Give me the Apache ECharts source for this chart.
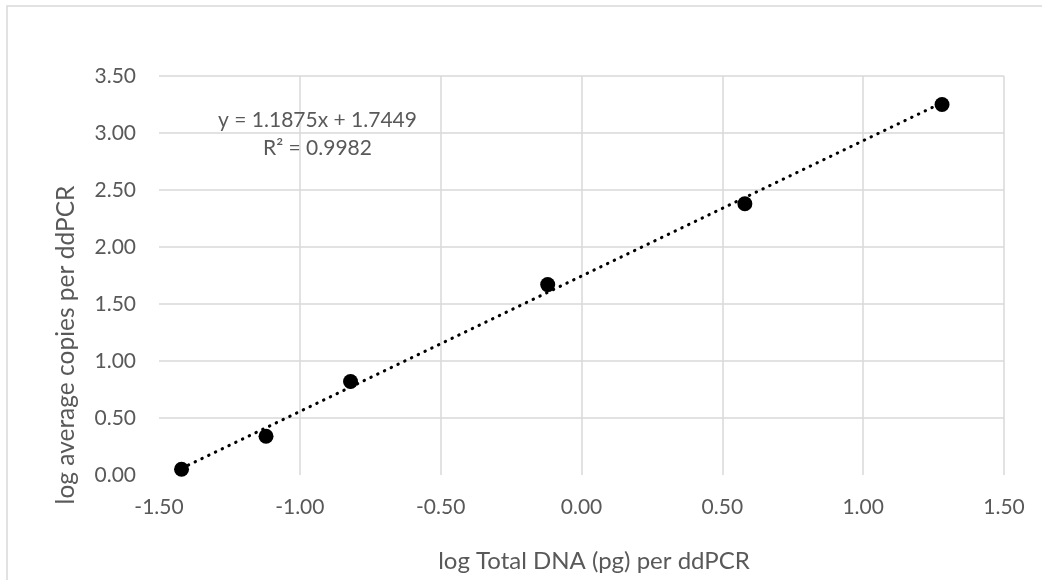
<!DOCTYPE html>
<html>
<head>
<meta charset="utf-8">
<script src="https://cdn.jsdelivr.net/npm/echarts@6/dist/echarts.min.js"></script>
<style>
html,body{margin:0;padding:0;background:#fff;}
#chart{width:1042px;height:580px;}
</style>
</head>
<body>
<div id="chart"></div>
<script>
// Data
const xValues = [-1.42, -1.12, -0.82, -0.12, 0.58, 1.28];
const yValues = [0.05, 0.34, 0.82, 1.67, 2.38, 3.25];
const trendSlope = 1.1875;
const trendIntercept = 1.7449;
const rSquared = 0.9982;
const xTicks = [-1.5, -1.0, -0.5, 0.0, 0.5, 1.0, 1.5];
const yTicks = [0.0, 0.5, 1.0, 1.5, 2.0, 2.5, 3.0, 3.5];
const xTitle = 'log Total DNA (pg) per ddPCR';
const yTitle = 'log average copies per ddPCR';

const points = xValues.map((x, i) => [x, yValues[i]]);
const xMin = Math.min(...xValues), xMax = Math.max(...xValues);
const trendPoints = [xMin, xMax].map(x => [x, trendSlope * x + trendIntercept]);
const eqText = 'y = ' + trendSlope.toFixed(4) + 'x + ' + trendIntercept.toFixed(4) + '\nR² = ' + rSquared.toFixed(4);

const FONT = 'Lato';
const TXT = '#595959';
const GRID = '#d9d9d9';

const chart = echarts.init(document.getElementById('chart'), null, {renderer: 'canvas'});
chart.setOption({
  animation: false,
  backgroundColor: '#fff',
  grid: {left: 159, right: 38, top: 76, bottom: 105, containLabel: false},
  xAxis: {
    type: 'value',
    min: xTicks[0], max: xTicks[xTicks.length - 1], interval: 0.5,
    axisLine: {show: false},
    axisTick: {show: false},
    splitLine: {show: true, showMinLine: false, lineStyle: {color: GRID, width: 1.5}},
    axisLabel: {margin: 22, color: TXT, fontFamily: FONT, fontSize: 21, formatter: v => v.toFixed(2)},
    name: xTitle,
    nameLocation: 'middle',
    nameGap: 74,
    nameTextStyle: {color: TXT, fontFamily: FONT, fontSize: 24, padding: [0, 0, 0, 25]}
  },
  yAxis: {
    type: 'value',
    min: yTicks[0], max: yTicks[yTicks.length - 1], interval: 0.5,
    axisLine: {show: false},
    axisTick: {show: false},
    splitLine: {show: true, showMinLine: false, lineStyle: {color: GRID, width: 1.5}},
    axisLabel: {margin: 23, color: TXT, fontFamily: FONT, fontSize: 21, formatter: v => v.toFixed(2)}
  },
  graphic: [
    {type: 'rect', silent: true, shape: {x: 7, y: 6, width: 1200, height: 800},
     style: {fill: 'none', stroke: GRID, lineWidth: 1.5}, z: -10},
    {type: 'text', x: 66, y: 345, rotation: Math.PI / 2,
     style: {text: yTitle, fill: TXT, font: '24.5px Lato', textAlign: 'center', textVerticalAlign: 'middle'}},
    {type: 'text', x: 317.5, y: 134, z: 10,
     style: {text: eqText, fill: TXT, font: '21px Lato', textAlign: 'center', textVerticalAlign: 'middle', lineHeight: 28}}
  ],
  series: [
    {
      type: 'scatter',
      data: points,
      symbol: 'circle',
      symbolSize: 15,
      itemStyle: {color: '#000', opacity: 1},
      z: 2
    },
    {
      type: 'line',
      data: trendPoints,
      showSymbol: false,
      symbol: 'none',
      lineStyle: {color: '#000', width: 3, type: [0.5, 7], cap: 'round', opacity: 1},
      z: 3
    }
  ]
});
</script>
</body>
</html>
